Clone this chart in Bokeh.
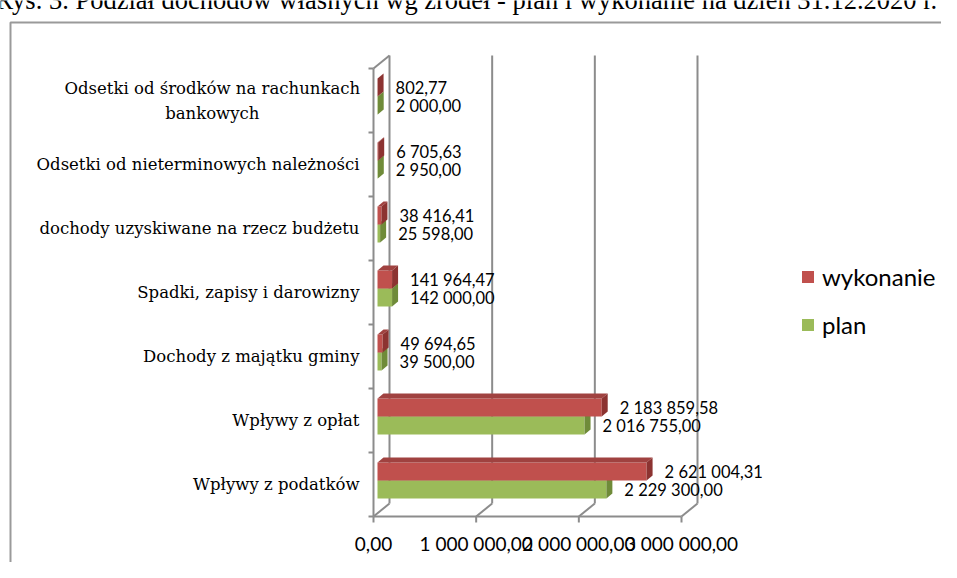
import textwrap
from bokeh.plotting import figure
from bokeh.models import Range1d, Legend, LegendItem
from bokeh.core.properties import value
from bokeh.embed import file_html
from bokeh.resources import INLINE

# ---------------- data ----------------
title_text = "Rys. 3. Podział dochodów własnych wg źródeł - plan i wykonanie na dzień 31.12.2020 r."
categories = [
    "Wpływy z podatków",
    "Wpływy z opłat",
    "Dochody z majątku gminy",
    "Spadki, zapisy i darowizny",
    "dochody uzyskiwane na rzecz budżetu",
    "Odsetki od nieterminowych należności",
    "Odsetki od środków na rachunkach bankowych",
]
plan = [2229300.00, 2016755.00, 39500.00, 142000.00, 25598.00, 2950.00, 2000.00]
wykonanie = [2621004.31, 2183859.58, 49694.65, 141964.47, 38416.41, 6705.63, 802.77]
x_ticks = [0, 1000000, 2000000, 3000000]
series_names = ["wykonanie", "plan"]


def fmt(v):
    return f"{v:,.2f}".replace(",", " ").replace(".", ",")


# ---------------- layout / style ----------------
W, H = 941, 562
X0_PX = 373              # pixel column of value 0 on the front plane
KX = 308 / 3000000       # pixels per unit of value
Y0_PX = 516              # pixel row of the category axis bottom
CAT_PX = 64              # pixels per category

WALL_DX, WALL_DY = 16, 13
BAR_OX, BAR_OY = 4, 4
BAR_DX, BAR_DY = 6, 5
BAR_H_PX = 18
LABEL_GAP = 18

GRAY = "#8C8C8C"
RED = ("#C0504D", "#A04240", "#8C3331")
GREEN = ("#9BBB59", "#86A34A", "#6F8B39")

SERIF = "DejaVu Serif"
SANS = "Lato"


def dx(px):
    return px / KX


def dy(px):
    return px / CAT_PX


def sx(px):
    """figure pixel column -> data x"""
    return dx(px - X0_PX)


def sy(px):
    """figure pixel row (from top) -> data y"""
    return dy(Y0_PX - px)


n = len(categories)
p = figure(
    width=W, height=H,
    x_range=Range1d(sx(0), sx(W)),
    y_range=Range1d(sy(H), sy(0)),
    output_backend="svg", toolbar_location=None,
    x_axis_location=None, y_axis_location=None,
    min_border=0, outline_line_color=None,
    background_fill_color="white", border_fill_color="white",
)
p.grid.visible = False

# chart outer border (left and top edges visible)
p.line(x=[sx(10), sx(10), sx(W + 10)], y=[sy(H + 10), sy(22), sy(22)],
       line_color="#9A9A9A", line_width=2)

# title (mostly clipped by the top of the page, as in the picture)
p.text(x=[sx(-5)], y=[sy(-1)], text=[title_text],
       text_font=value("Liberation Serif"), text_font_size="26.5px",
       text_baseline="alphabetic", text_align="left", text_color="black")

# ---------------- 3D walls / gridlines ----------------
gx, gy = [], []
x_max = x_ticks[-1]
for t in x_ticks:
    gx.append([t + dx(WALL_DX), t + dx(WALL_DX)])
    gy.append([dy(WALL_DY), n + dy(WALL_DY)])
    gx.append([t, t + dx(WALL_DX)])
    gy.append([0, dy(WALL_DY)])
    gx.append([t, t])
    gy.append([0, -dy(6)])
gx.append([0, x_max]); gy.append([0, 0])
gx.append([0, 0]); gy.append([0, n])
gx.append([0, dx(WALL_DX)]); gy.append([n, n + dy(WALL_DY)])
for k in range(n + 1):
    gx.append([-dx(5), 0]); gy.append([k, k])
p.multi_line(xs=gx, ys=gy, line_color=GRAY, line_width=2)

# x tick labels
p.text(x=x_ticks, y=[-dy(27)] * len(x_ticks), text=[fmt(t) for t in x_ticks],
       text_font=value(SANS), text_font_size="19px", text_align="center",
       text_baseline="middle", text_color="black")

# ---------------- bars ----------------
h = dy(BAR_H_PX)
front_renderers = {}
for name, vals, cols, sign in (("plan", plan, GREEN, -1), ("wykonanie", wykonanie, RED, 1)):
    left, right, bottom, top = [], [], [], []
    top_xs, top_ys, side_xs, side_ys = [], [], [], []
    lab_x, lab_y, lab_t = [], [], []
    for i, v in enumerate(vals):
        c = i + 0.5
        b = (c if sign > 0 else c - h) + dy(BAR_OY)
        tp = b + h
        x0 = dx(BAR_OX)
        x1 = v + dx(BAR_OX)
        left.append(x0); right.append(x1); bottom.append(b); top.append(tp)
        top_xs.append([x0, x1, x1 + dx(BAR_DX), x0 + dx(BAR_DX)])
        top_ys.append([tp, tp, tp + dy(BAR_DY), tp + dy(BAR_DY)])
        side_xs.append([x1, x1, x1 + dx(BAR_DX), x1 + dx(BAR_DX)])
        side_ys.append([b, tp, tp + dy(BAR_DY), b + dy(BAR_DY)])
        lab_x.append(x1 + dx(LABEL_GAP)); lab_y.append((b + tp) / 2); lab_t.append(fmt(v))
    r = p.quad(left=left, right=right, bottom=bottom, top=top,
               fill_color=cols[0], line_color=None)
    p.patches(xs=top_xs, ys=top_ys, fill_color=cols[1], line_color=None)
    p.patches(xs=side_xs, ys=side_ys, fill_color=cols[2], line_color=None)
    p.text(x=lab_x, y=lab_y, text=lab_t, text_font=value(SANS), text_font_size="16.5px",
           text_align="left", text_baseline="middle", text_color="black")
    front_renderers[name] = r

# ---------------- category labels ----------------
LABEL_RIGHT = -dx(14)
CHAR_W = 9.2
LINE_H = 25
for i, cat in enumerate(categories):
    lines = textwrap.wrap(cat, 36)
    c = i + 0.5
    if len(lines) == 1:
        p.text(x=[LABEL_RIGHT], y=[c], text=lines, text_font=value(SERIF),
               text_font_size="16.5px", text_align="right", text_baseline="middle",
               text_color="black")
    else:
        cx = LABEL_RIGHT - dx(len(lines[0]) * CHAR_W / 2)
        ys = [c + dy(LINE_H * ((len(lines) - 1) / 2 - j)) for j in range(len(lines))]
        p.text(x=[cx] * len(lines), y=ys, text=lines, text_font=value(SERIF),
               text_font_size="16.5px", text_align="center", text_baseline="middle",
               text_color="black")

# ---------------- legend ----------------
legend = Legend(
    items=[LegendItem(label=nm, renderers=[front_renderers[nm]]) for nm in series_names],
    location=(800, 223), orientation="vertical",
    glyph_width=15, glyph_height=15, label_standoff=7, spacing=19,
    padding=0, margin=0, border_line_color=None, background_fill_alpha=0,
    label_text_font=SANS, label_text_font_size="24px", label_text_color="black",
)
p.add_layout(legend, "center")

open("out.html", "w").write(file_html(p, INLINE))
